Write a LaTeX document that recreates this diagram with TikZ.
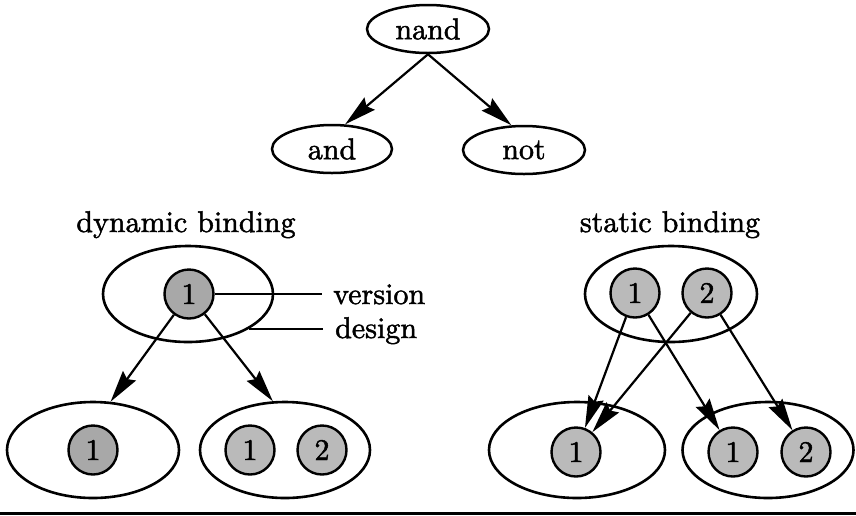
\documentclass[tikz,border=0pt]{standalone}
\usepackage{fontspec}
\newfontfamily\heavyrm{lmroman10-regular}[Extension=.otf,FakeBold=1.6]
\usetikzlibrary{shapes.geometric,arrows.meta}

\begin{document}
\begin{tikzpicture}[x=1pt,y=-1pt,
  txt/.style={font=\heavyrm\fontsize{30}{34}\selectfont},
  term/.style={ellipse,draw,line width=2.5pt,inner sep=0pt,minimum width=122pt,minimum height=48pt,txt},
  design/.style={ellipse,draw,line width=2.6pt,inner sep=0pt,minimum height=96pt},
  ver/.style={circle,draw,line width=2.4pt,fill=black!27,inner sep=0pt,minimum size=49pt,txt},
  arr/.style={line width=2.2pt,-{Stealth[length=32pt,width=16pt,inset=4pt]}},
  lbl/.style={txt,anchor=base west,inner sep=0pt},
  lead/.style={line width=2.2pt},
]
\useasboundingbox (0,0) rectangle (856,515);

% composition tree
\node[term] (nand) at (428,29) {nand};
\node[term,minimum width=120pt] (and) at (332,149) {and};
\node[term] (not) at (524,150) {not};
\draw[arr] (nand.south) -- (and.62);
\draw[arr] (nand.south) -- (not.117);

% dynamic binding
\node[txt,anchor=base] (dynlbl) at (186,232) {dynamic binding};
\node[design,minimum width=170pt] (dtop) at (188,294) {};
\node[ver,fill=black!34] (dv) at (189,294) {1};
\node[design,minimum width=172pt] (dl) at (93,450) {};
\node[ver,fill=black!34] (dl1) at (93,450) {1};
\node[design,minimum width=170pt] (dr) at (285,450) {};
\node[ver] (dr1) at (250,450) {1};
\node[ver] (dr2) at (322,450) {2};
\draw[arr] (dv) -- (dl.70);
\draw[arr] (dv) -- (dr.104);

% legend
\node[lbl] (verlbl) at (333,304) {version};
\node[lbl] (deslbl) at (335,338) {design};
\draw[lead,shorten >=11pt] (dv.east) -- (dv.east -| verlbl.west);
\draw[lead,shorten >=12pt] (dtop.-30) -- (dtop.-30 -| deslbl.west);

% static binding
\node[txt,anchor=base] (statlbl) at (670,232) {static binding};
\node[design,minimum width=172pt] (stop) at (671,294) {};
\node[ver] (s1) at (635,293) {1};
\node[ver] (s2) at (707,293) {2};
\node[design,minimum width=176pt] (sl) at (577,450) {};
\node[ver] (sl1) at (576,452) {1};
\node[design,minimum width=171pt] (sr) at (768,450) {};
\node[ver] (sr1) at (733,452) {1};
\node[ver] (sr2) at (806,452) {2};
\draw[arr] (s1) -- (sl1);
\draw[arr] (s2) -- (sl1);
\draw[arr] (s1) -- (sr1);
\draw[arr] (s2) -- (sr2);

% rule under the figure
\draw[line width=3pt] (0,513) -- (856,513);
\end{tikzpicture}
\end{document}
